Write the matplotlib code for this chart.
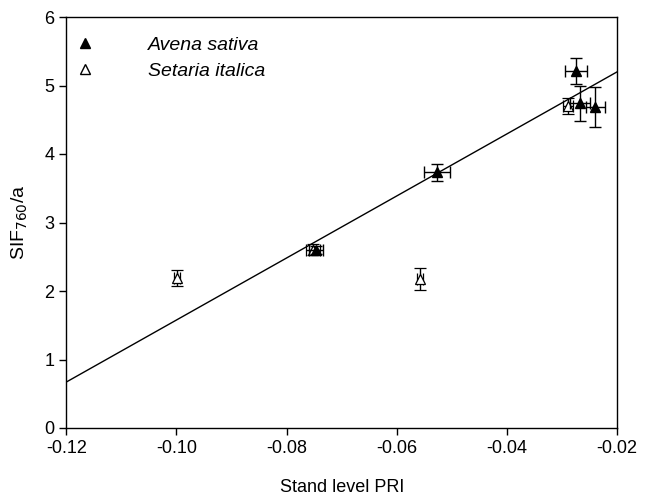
import numpy as np
import matplotlib.pyplot as plt

plt.rcParams['font.family'] = ['Liberation Sans', 'DejaVu Sans']

# Avena sativa (filled)
avena_pri = [-0.0747, -0.0527, -0.0274, -0.0267, -0.0240]
avena_sif = [2.60, 3.73, 5.21, 4.74, 4.69]
avena_xerr = [0.0013, 0.0024, 0.0020, 0.0018, 0.0017]
avena_yerr = [0.06, 0.12, 0.19, 0.26, 0.29]

# Setaria italica (open)
setaria_pri = [-0.0999, -0.0752, -0.0558, -0.0290]
setaria_sif = [2.19, 2.60, 2.17, 4.70]
setaria_xerr = [0.0005, 0.0013, 0.0005, 0.0009]
setaria_yerr = [0.12, 0.08, 0.16, 0.12]

# regression line
slope = 45.3
intercept = 6.106
line_x = [-0.12, -0.02]

fig = plt.figure(figsize=(6.49, 5.0), dpi=100)
ax = fig.add_axes([0.102, 0.144, 0.849, 0.822])

lx = np.array(line_x)
ax.plot(lx, slope * lx + intercept, color='black', lw=1.0, zorder=1)

ax.errorbar(setaria_pri, setaria_sif, xerr=setaria_xerr, yerr=setaria_yerr,
            fmt='^', ms=7.5, mfc='white', mec='black', mew=0.9, ecolor='black',
            elinewidth=1.0, capsize=4.5, capthick=1.0, zorder=3)
ax.errorbar(avena_pri, avena_sif, xerr=avena_xerr, yerr=avena_yerr,
            fmt='^', ms=7.5, mfc='black', mec='black', ecolor='black',
            elinewidth=1.0, capsize=4.5, capthick=1.0, zorder=4)

# legend handles
h1, = ax.plot([], [], '^', ms=7, mfc='black', mec='black', ls='none')
h2, = ax.plot([], [], '^', ms=7, mfc='white', mec='black', ls='none')
ax.legend([h1, h2], ['Avena sativa', 'Setaria italica'],
          loc='upper left', bbox_to_anchor=(0.016, 0.953), frameon=False,
          prop={'style': 'italic', 'size': 14}, handletextpad=2.75,
          borderaxespad=0.0, labelspacing=0.42, borderpad=0.0,
          handlelength=1.0)

ax.set_xlim(-0.12, -0.02)
ax.set_ylim(0, 6)
ax.set_xticks([-0.12, -0.10, -0.08, -0.06, -0.04, -0.02])
ax.set_xticklabels(['-0.12', '-0.10', '-0.08', '-0.06', '-0.04', '-0.02'])
ax.set_yticks([0, 1, 2, 3, 4, 5, 6])
ax.tick_params(direction='out', length=5, width=1, labelsize=13,
               top=False, right=False)
for s in ax.spines.values():
    s.set_linewidth(1.0)

ax.set_xlabel('Stand level PRI', fontsize=13, labelpad=16)
ax.set_ylabel('SIF$_{760}$/a', fontsize=14, labelpad=10)

fig.savefig('out.png', dpi=100)
